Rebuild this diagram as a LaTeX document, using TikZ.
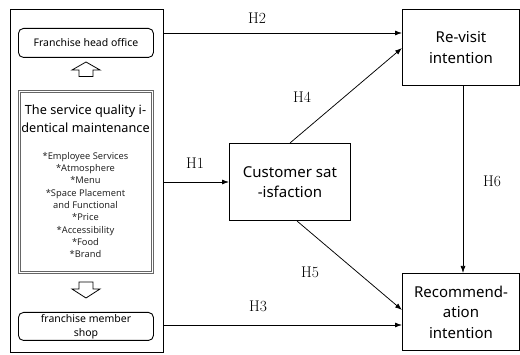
\documentclass[tikz,border=0pt]{standalone}
\usepackage{fontspec}
\newfontfamily\boxfont{Noto Sans}
\usetikzlibrary{arrows.meta}
\begin{document}
\begin{tikzpicture}[x=1pt,y=-1pt,
  box/.style={draw,line width=1pt,inner sep=0pt,anchor=north west,font=\boxfont\fontsize{15}{20.5}\selectfont,align=center},
  rbox/.style={draw,line width=0.9pt,rounded corners=5pt,inner sep=0pt,anchor=north west,font=\boxfont\fontsize{10.5}{13}\selectfont,align=center},
  hyp/.style={font=\fontsize{15.5}{16}\selectfont},
  arr/.style={-{Latex[length=7pt,width=5pt]},line width=0.75pt},
  block/.style={draw,line width=0.8pt,fill=white}]
\useasboundingbox (0,0) rectangle (520,355);
% left outer box
\node[draw,line width=0.9pt,minimum width=153pt,minimum height=343pt,anchor=north west,inner sep=0pt] (outer) at (10,9) {};
\node[rbox,minimum width=135pt,minimum height=29pt] (head) at (18,28) {Franchise head office};
\node[draw=gray!80!black,double=white,double distance=1.2pt,line width=0.8pt,minimum width=133pt,minimum height=181pt,anchor=north west,inner sep=0pt] (svc) at (19,91) {};
\node[font=\boxfont\fontsize{12.7}{18}\selectfont,align=center] (svct) at (85.5,119) {The service quality i-\\dentical maintenance};
\node[font=\boxfont\fontsize{9.3}{12.3}\selectfont,align=center,text=black!85] (svcl) at (85.5,205) {*Employee Services\\*Atmosphere\\*Menu\\*Space Placement\\and Functional\\*Price\\*Accessibility\\*Food\\*Brand};
\node[rbox,minimum width=135pt,minimum height=28pt,font=\boxfont\fontsize{10.5}{14}\selectfont] (shop) at (18,312) {franchise member\\shop};
% block arrows
\draw[block] (86,62) -- (100,70) -- (93,70) -- (93,76.5) -- (79,76.5) -- (79,70) -- (72,70) -- cycle;
\draw[block] (79,282) -- (93,282) -- (93,289) -- (100,289) -- (86,298) -- (72,289) -- (79,289) -- cycle;
% right boxes
\node[box,minimum width=117pt,minimum height=76pt] (rev) at (402,9) {Re-visit\\intention};
\node[box,minimum width=121pt,minimum height=77pt] (cs) at (229,143) {Customer sat\\-isfaction};
\node[box,minimum width=117pt,minimum height=77pt] (rec) at (402,273) {Recommend-\\ation\\intention};
% connectors
\coordinate (h2s) at (163,33);
\coordinate (h1s) at (163,182);
\coordinate (h3s) at (163,325);
\draw[arr] (h2s) -- (rev.west |- h2s);
\draw[arr] (h1s) -- (cs.west |- h1s);
\draw[arr] (h3s) -- (rec.west |- h3s);
\draw[arr] (cs.north -| 290,0) -- (402,48);
\draw[arr] (cs.south -| 297,0) -- (402,310);
\draw[arr] (rev.south -| 463,0) -- (rec.north -| 463,0);
% labels
\node[hyp] (lh2) at (257,18) {H2};
\node[hyp] (lh1) at (195,163) {H1};
\node[hyp] (lh3) at (258,306) {H3};
\node[hyp] (lh4) at (302,97) {H4};
\node[hyp] (lh5) at (310,272) {H5};
\node[hyp] (lh6) at (492,181) {H6};
\end{tikzpicture}
\end{document}
